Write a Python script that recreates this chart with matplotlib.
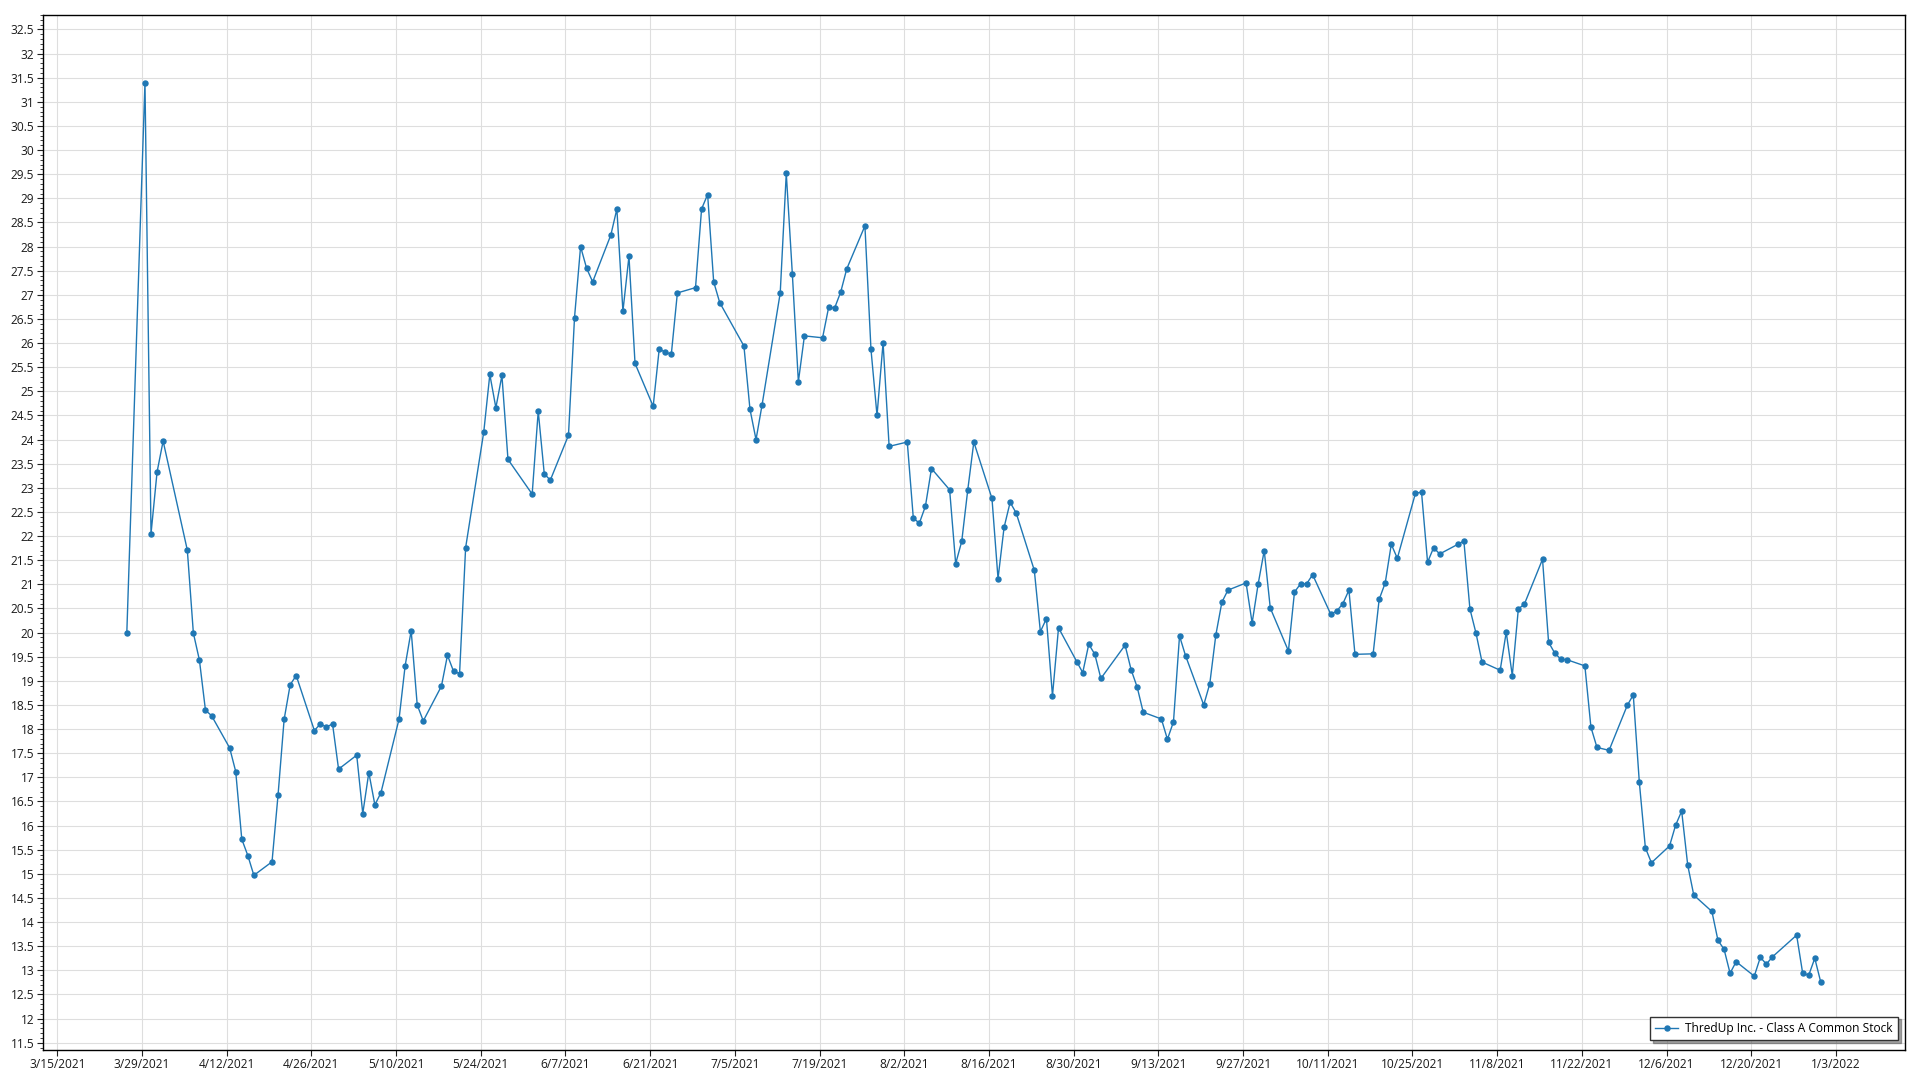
import pandas as pd
import matplotlib
matplotlib.use("Agg")
import matplotlib.pyplot as plt
import matplotlib.dates as mdates
from matplotlib.ticker import MultipleLocator, FuncFormatter

plt.rcParams['font.family'] = ['Open Sans', 'DejaVu Sans']

series_name = "ThredUp Inc. - Class A Common Stock"

# NYSE holidays inside the range (no trading -> no point)
holidays = ["2021-04-02", "2021-05-31", "2021-07-05", "2021-09-06", "2021-11-25", "2021-12-24"]

# daily prices, one line per month
mar = [20.00, 31.40, 22.05, 23.33]
apr = [23.97, 21.71, 19.99, 19.43, 18.39, 18.28, 17.61, 17.12, 15.72, 15.38, 14.97,
       15.25, 16.64, 18.20, 18.92, 19.11, 17.97, 18.11, 18.04, 18.11, 17.17]
may = [17.46, 16.25, 17.10, 16.43, 16.68, 18.21, 19.31, 20.04, 18.50, 18.17,
       18.89, 19.53, 19.20, 19.15, 21.76, 24.16, 25.35, 24.66, 25.33, 23.59]
jun = [22.87, 24.59, 23.29, 23.16, 24.09, 26.53, 28.00, 27.55, 27.27, 28.24, 28.78,
       26.66, 27.80, 25.58, 24.69, 25.88, 25.81, 25.77, 27.04, 27.15, 28.78, 29.08]
jul = [27.27, 26.84, 25.94, 24.63, 24.00, 24.72, 27.04, 29.52, 27.44, 25.20, 26.15,
       26.11, 26.74, 26.73, 27.06, 27.54, 28.43, 25.87, 24.50, 26.01, 23.86]
aug = [23.95, 22.37, 22.27, 22.62, 23.40, 22.96, 21.43, 21.89, 22.96, 23.95, 22.78,
       21.12, 22.18, 22.70, 22.48, 21.29, 20.02, 20.29, 18.69, 20.10, 19.40, 19.17]
sep = [19.76, 19.55, 19.05, 19.74, 19.23, 18.87, 18.35, 18.21, 17.79, 18.15, 19.93,
       19.52, 18.50, 18.94, 19.95, 20.63, 20.88, 21.03, 20.20, 21.01, 21.70]
oct = [20.51, 19.62, 20.84, 21.01, 21.01, 21.20, 20.38, 20.45, 20.60, 20.88, 19.55,
       19.56, 20.69, 21.03, 21.83, 21.54, 22.89, 22.91, 21.46, 21.76, 21.63]
nov = [21.83, 21.90, 20.49, 19.99, 19.39, 19.22, 20.01, 19.11, 20.49, 20.59, 21.52,
       19.80, 19.58, 19.45, 19.44, 19.31, 18.04, 17.62, 17.56, 18.49, 18.71]
dec = [16.90, 15.54, 15.23, 15.58, 16.01, 16.30, 15.18, 14.56, 14.22, 13.62, 13.44,
       12.94, 13.18, 12.88, 13.27, 13.13, 13.28, 13.73, 12.94, 12.90, 13.25, 12.75]

prices = mar + apr + may + jun + jul + aug + sep + oct + nov + dec
dates = pd.bdate_range("2021-03-26", "2021-12-31", freq="C", holidays=holidays)
dates = dates + pd.Timedelta(hours=12)
assert len(dates) == len(prices), (len(dates), len(prices))

line_color = "#1f77b4"

fig = plt.figure(figsize=(19.2, 10.8), dpi=100)
ax = fig.add_axes([0.0222, 0.0278, 0.97, 0.9583])

ax.plot(dates, prices, color=line_color, linewidth=1.0, marker="o",
        markersize=3.6, label=series_name, zorder=3)

ax.set_xlim(pd.Timestamp("2021-03-12 14:00"), pd.Timestamp("2022-01-14 10:00"))
ax.set_ylim(11.35, 32.8)

ticks = pd.date_range("2021-03-15", "2022-01-03", freq="14D")
ax.set_xticks(ticks)
ax.xaxis.set_major_formatter(FuncFormatter(
    lambda v, pos: (lambda d: f"{d.month}/{d.day}/{d.year}")(mdates.num2date(v))))

ax.yaxis.set_major_locator(MultipleLocator(0.5))
ax.yaxis.set_minor_locator(MultipleLocator(0.1))
ax.yaxis.set_major_formatter(FuncFormatter(lambda v, pos: f"{v:g}"))

ax.grid(True, which="major", color="#dedede", linewidth=0.8, zorder=0)
ax.set_axisbelow(True)

ax.tick_params(axis="both", which="major", labelsize=8.6, length=4, width=0.8,
               color="#222222", labelcolor="#1a1a1a", pad=2)
ax.tick_params(axis="y", which="minor", length=2, width=0.6, color="#222222")

for sp in ax.spines.values():
    sp.set_color("black")
    sp.set_linewidth(1.0)

leg = ax.legend(loc="lower right", fontsize=8.6, frameon=True, fancybox=False,
                shadow=True, borderpad=0.45, handlelength=1.9, handletextpad=0.6,
                bbox_to_anchor=(0.9995, 0.0035))
leg.get_frame().set_edgecolor("#333333")
leg.get_frame().set_linewidth(1.0)

plt.savefig("out.png", dpi=100)
